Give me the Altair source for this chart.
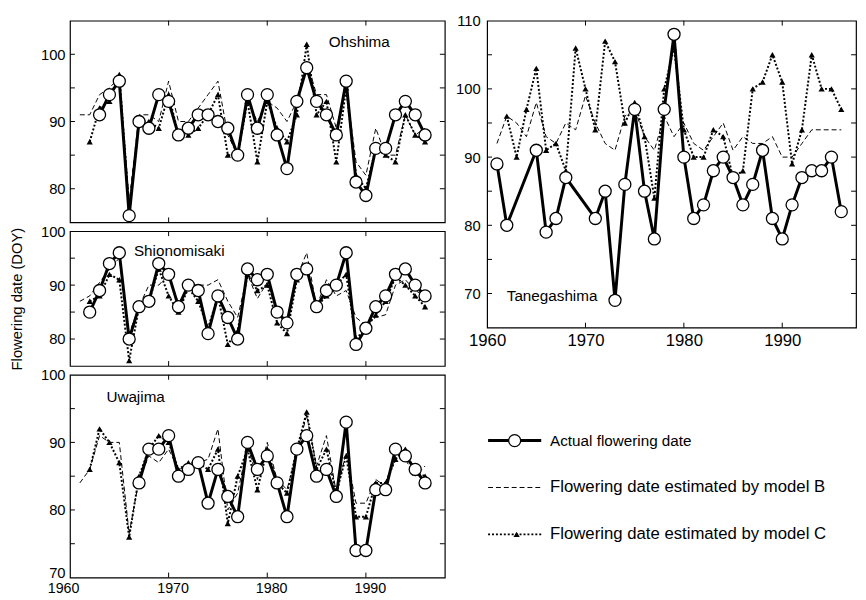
import altair as alt
import pandas as pd

FONT = "Liberation Sans"
YEARS = list(range(1961, 1997))
X_LABELS = [1960, 1970, 1980, 1990]
X_TICKS = [1970, 1980, 1990]
SERIES = ["actual", "b", "c"]
LEGEND_LABELS = [
    "Actual flowering date",
    "Flowering date estimated by model B",
    "Flowering date estimated by model C",
]

# ---- data (1961 .. 1996), None = no value ----
ohshima_actual = [None, None, 91, 94, 96, 76, 90, 89, 94, 93, 88, 89, 91, 91, 90, 89, 85, 94,
                  89, 94, 88, 83, 93, 98, 93, 91, 88, 96, 81, 79, 86, 86, 91, 93, 91, 88]
ohshima_b = [91, 91, 94, 95, 96.5, 78, 91, 91, 90, 96, 90, 90, 92, 94, 96, 88, 85, 93,
             90, 93, 92, 90, 93, 99, 94, 94, 89, 95, 84, 82, 89, 85, 85, 91, 88, 89]
ohshima_c = [None, 87, 92, 93, 97, 77, 90, 90, 89, 94, 88, 88, 89, 91, 94, 85, 85, 93,
             84, 93, 89, 87, 91, 101.5, 91, 93, 84, 95, 82, 80, 86, 85, 84, 91, 88, 87]

shio_actual = [None, 85, 89, 94, 96, 80, 86, 87, 94, 92, 86, 90, 89, 81, 88, 84, 80, 93,
               91, 92, 85, 83, 92, 93, 86, 89, 90, 96, 79, 82, 86, 88, 92, 93, 90, 88]
shio_b = [87, 88, 90.5, 93, 95, 81, 86, 90, 90, 92, 86.5, 90, 90, 90, 91, 87, 84, 92,
          87.5, 90.5, 85, 83.5, 91.5, 96, 86, 91, 88, 89, 84, 82.5, 84, 84.5, 90, 91, 89, 88]
shio_c = [None, 87, 88, 92, 91, 76, 86, 87, 93, 88, 85, 89.5, 87, 82, 88, 79, 81.5, 92,
          89, 90, 83, 81, 91, 93.5, 86, 88, 90, 92, 80, 82, 84.5, 87, 91.5, 90, 88, 86]

uwa_actual = [None, None, None, None, None, None, 84, 89, 89, 91, 85, 86, 87, 81, 86, 82, 79, 90,
              86, 88, 84, 79, 89, 91, 85, 86, 82, 93, 74, 74, 83, 83, 89, 88, 86, 84]
uwa_b = [84, 86, 91, 90, 90, 76.5, 84.5, 88, 87, 89, 86, 86.5, 87, 87.5, 92, 80, 82.5, 89.5,
         84.5, 90, 84.5, 83, 88.5, 94, 86.5, 91, 82.5, 88.5, 81, 81, 84.5, 83.5, 88, 87.5, 85, 86.5]
uwa_c = [None, 86, 92, 90, 87, 76, 85, 89, 91, 90, 86, 87, 87, 86, 89, 78, 85, 89,
         83, 89, 84, 82.5, 89, 94.5, 86, 89, 82.5, 88, 79, 79, 84, 84, 87.5, 89, 85.5, 85]

tane_actual = [89, 80, None, None, 91, 79, 81, 87, None, None, 81, 85, 69, 86, 97, 85, 78, 97,
               108, 90, 81, 83, 88, 90, 87, 83, 86, 91, 81, 78, 83, 87, 88, 88, 90, 82]
tane_b = [92, 96, 95, 93, 98, 93, 92, 95, 94, 99, 95, 92, 91, 96, 97, 93, 91, 96,
          93, 95, 92, 91, 93, 95, 91, 93, 92, 92, 93, 90, 90, 92, 94, 94, 94, 94]
tane_c = [None, 96, 90, 97, 103, 91, 92, 88, 106, 100, 94, 107, 104, 95, 98, 93, 84, 100,
          106, 94, 90, 90, 94, 93, 87, 88, 100, 101, 105, 101, 89, 94, 105, 100, 100, 97]


def long_table(actual, model_b, model_c):
    rows = []
    for i, yr in enumerate(YEARS):
        for key, vals in zip(SERIES, (actual, model_b, model_c)):
            if vals[i] is not None:
                rows.append({"year": yr, "value": vals[i], "series": key})
    return pd.DataFrame(rows)


def panel(name, actual, model_b, model_c, ydom, ylabels, yticks, xdom, w, h, name_pos,
          ytitle=None, show_x=False, xlabel_size=15, xlabel_pad=3, ylabel_pad=5,
          label_expr=None, xlabel_offset=None, ylabel_offset=None):
    df = long_table(actual, model_b, model_c)
    xsc = alt.Scale(domain=xdom, nice=False, zero=False)
    ysc = alt.Scale(domain=ydom, nice=False, zero=False)
    if show_x:
        xkw = dict(values=X_LABELS, format="d", ticks=False, domain=False, grid=False,
                   title=None, labelFontSize=xlabel_size, labelFlush=False,
                   labelPadding=xlabel_pad)
        if xlabel_offset is not None:
            xkw["labelOffset"] = xlabel_offset
        xax = alt.Axis(**xkw)
    else:
        xax = None
    ykw = dict(values=ylabels, ticks=False, domain=False, grid=False,
               labelPadding=ylabel_pad, labelFlush=False, title=ytitle)
    if label_expr:
        ykw["labelExpr"] = label_expr
    if ylabel_offset is not None:
        ykw["labelOffset"] = ylabel_offset
    yax = alt.Axis(**ykw)
    X = alt.X("year:Q", scale=xsc, axis=xax)
    Y = alt.Y("value:Q", scale=ysc, axis=yax)

    ytk = alt.Chart(pd.DataFrame({"value": yticks}))
    xtk = alt.Chart(pd.DataFrame({"year": X_TICKS}))
    tick_style = dict(color="black", strokeWidth=1)
    layers = [
        ytk.mark_rule(**tick_style).encode(y=Y, x=alt.value(0), x2=alt.value(5)),
        ytk.mark_rule(**tick_style).encode(y=Y, x=alt.value(w - 5), x2=alt.value(w)),
        xtk.mark_rule(**tick_style).encode(x=X, y=alt.value(0), y2=alt.value(5)),
        xtk.mark_rule(**tick_style).encode(x=X, y=alt.value(h - 5), y2=alt.value(h)),
    ]
    base = alt.Chart(df).encode(x=X, y=Y)
    layers += [
        base.transform_filter("datum.series == 'b'").mark_line(
            color="black", strokeWidth=1, strokeDash=[5, 3]),
        base.transform_filter("datum.series == 'c'").mark_line(
            color="black", strokeWidth=2, strokeDash=[2, 2]),
        base.transform_filter("datum.series == 'c'").mark_point(
            shape="triangle-up", filled=True, color="black", size=40, opacity=1),
        base.transform_filter("datum.series == 'actual'").mark_line(
            color="black", strokeWidth=3),
        base.transform_filter("datum.series == 'actual'").mark_point(
            shape="circle", filled=True, fill="white", stroke="black", strokeWidth=1.3,
            size=150, opacity=1),
        alt.Chart(pd.DataFrame({"station": [name]})).mark_text(
            align="left", baseline="middle", font=FONT, fontSize=15.5, color="black"
        ).encode(text="station:N", x=alt.value(name_pos[0]), y=alt.value(name_pos[1])),
    ]
    return alt.layer(*layers).properties(width=w, height=h)


LW = 381
ohshima = panel("Ohshima", ohshima_actual, ohshima_b, ohshima_c, [75, 105], [80, 90, 100, 105],
                [80, 85, 90, 95, 100], [1960, 1998], LW, 205, (263, 22),
                label_expr="datum.value == 105 ? ' ' : datum.label")
shio = panel("Shionomisaki", shio_actual, shio_b, shio_c, [75, 100], [80, 90, 100],
             [80, 85, 90, 95], [1960, 1998], LW, 137, (65, 20),
             ytitle="Flowering date (DOY)")
uwa = panel("Uwajima", uwa_actual, uwa_b, uwa_c, [70, 100], [70, 80, 90, 100],
            [75, 80, 85, 90, 95], [1960, 1998], LW, 206, (37, 23),
            show_x=True, xlabel_size=14.5, xlabel_pad=4,
            xlabel_offset={"condition": {"test": "datum.value == 1960", "value": -7}, "value": 4},
            ylabel_offset={"condition": {"test": "datum.value == 70", "value": -5}, "value": 0})
tane = panel("Tanegashima", tane_actual, tane_b, tane_c, [65, 110], [70, 80, 90, 100, 110],
             [70, 75, 80, 85, 90, 95, 100, 105], [1960, 1997.5], 375, 312, (20, 280),
             show_x=True, xlabel_size=17, xlabel_pad=5, ylabel_pad=7)

# ---- legend ----
leg_df = pd.DataFrame({"label": LEGEND_LABELS, "series": SERIES,
                       "fsize": [15.5, 17, 17]})
ly = alt.Y("label:N", sort=LEGEND_LABELS, axis=None,
           scale=alt.Scale(type="point", padding=0.5))
lb = alt.Chart(leg_df).encode(y=ly)
legend = alt.layer(
    lb.transform_filter("datum.series == 'actual'").mark_rule(color="black", strokeWidth=3)
      .encode(x=alt.value(1), x2=alt.value(55)),
    lb.transform_filter("datum.series == 'b'").mark_rule(color="black", strokeWidth=1,
                                                          strokeDash=[5, 3])
      .encode(x=alt.value(1), x2=alt.value(55)),
    lb.transform_filter("datum.series == 'c'").mark_rule(color="black", strokeWidth=2,
                                                          strokeDash=[2, 2])
      .encode(x=alt.value(1), x2=alt.value(55)),
    lb.transform_filter("datum.series == 'actual'").mark_point(
        shape="circle", filled=True, fill="white", stroke="black", strokeWidth=1.3,
        size=150, opacity=1).encode(x=alt.value(28)),
    lb.transform_filter("datum.series == 'c'").mark_point(
        shape="triangle-up", filled=True, color="black", size=40, opacity=1
    ).encode(x=alt.value(30)),
    lb.transform_filter("datum.series == 'actual'").mark_text(
        align="left", baseline="middle", font=FONT, fontSize=15.5, color="black"
    ).encode(text="label:N", x=alt.value(64)),
    lb.transform_filter("datum.series != 'actual'").mark_text(
        align="left", baseline="middle", font=FONT, fontSize=17, color="black"
    ).encode(text="label:N", x=alt.value(64)),
).properties(width=375, height=143, view=alt.ViewBackground(stroke="transparent"))

left = alt.vconcat(ohshima, shio, uwa, spacing=9, bounds="flush")
right = alt.vconcat(tane, legend, spacing=91, bounds="flush")

chart = alt.hconcat(left, right, spacing=8).properties(
    padding={"left": 1, "top": 0, "right": 0, "bottom": 0}
).configure(font=FONT).configure_view(
    stroke="black", strokeWidth=1.2
).configure_axis(
    labelFont=FONT, titleFont=FONT, labelFontSize=15, titleFontSize=15,
    titleFontWeight="normal", labelColor="black", titleColor="black",
    titlePadding=16, grid=False
)

chart.save("out.html", embed_options={"renderer": "svg", "actions": False})
